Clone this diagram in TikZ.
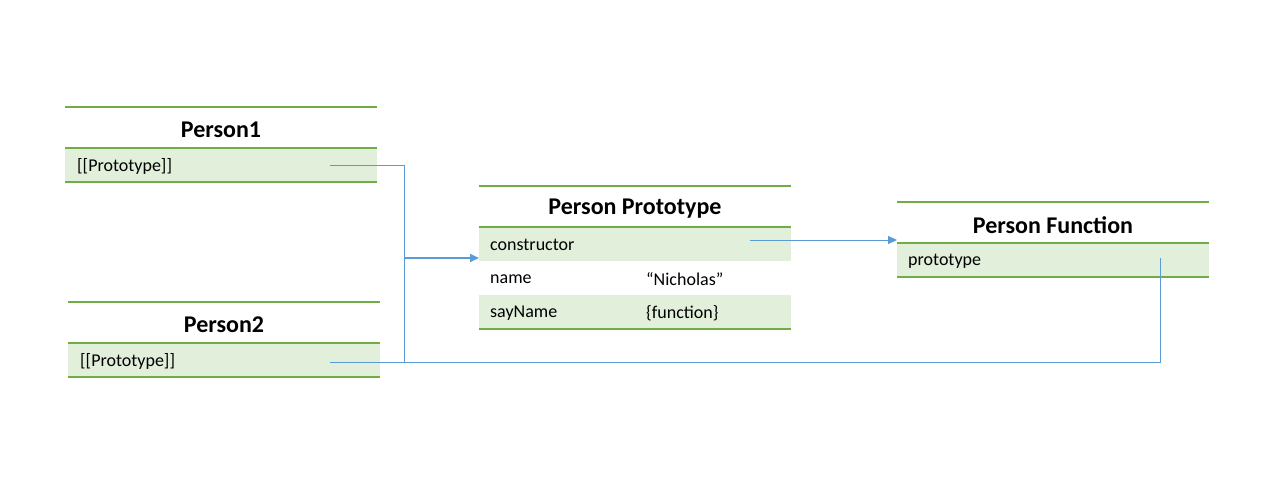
\documentclass[tikz,border=0pt]{standalone}
\usepackage{fontspec}
\setmainfont{Carlito}
\usetikzlibrary{arrows.meta}
\definecolor{ogreen}{HTML}{70AD47}
\definecolor{lgreen}{HTML}{E2EFDA}
\definecolor{oblue}{HTML}{5B9BD5}
\tikzset{
  gline/.style={draw=ogreen, line width=1.8pt},
  rowbox/.style={fill=lgreen, draw=none, minimum width=312pt, minimum height=34pt, inner sep=0pt, anchor=north west},
  ttl/.style={font=\bfseries\fontsize{24}{28}\selectfont, inner sep=0pt},
  txt/.style={font=\fontsize{18}{21}\selectfont, anchor=west, inner sep=0pt},
  conn/.style={draw=oblue, line width=1pt},
  connthick/.style={draw=oblue, line width=1.8pt},
  tip/.style={-{Triangle[length=9pt,width=8pt]}}
}
\begin{document}
\begin{tikzpicture}[x=1pt,y=-1pt]
\useasboundingbox (0,0) rectangle (1268,482);
% Person1
\node[rowbox] (p1row) at (65,148) {};
\draw[gline] (65,107) -- (377,107);
\draw[gline] (65,148) -- (377,148);
\draw[gline] (65,182) -- (377,182);
\node[ttl] (p1title) at (221,130) {Person1};
\node[txt] (p1txt) at (77,166) {[[Prototype]]};
% Person2
\node[rowbox] (p2row) at (68,343) {};
\draw[gline] (68,302) -- (380,302);
\draw[gline] (68,343) -- (380,343);
\draw[gline] (68,377) -- (380,377);
\node[ttl] (p2title) at (224,325) {Person2};
\node[txt] (p2txt) at (80,361) {[[Prototype]]};
% Person Prototype
\node[rowbox] (pprow1) at (479,227) {};
\node[rowbox] (pprow3) at (479,295) {};
\draw[gline] (479,186) -- (791,186);
\draw[gline] (479,227) -- (791,227);
\draw[gline] (479,329) -- (791,329);
\node[ttl] (pptitle) at (635,209) {Person Prototype};
\node[txt] (ppc) at (490,245) {constructor};
\node[txt] (ppn) at (490,279) {name};
\node[txt] (ppnv) at (646,279) {“Nicholas”};
\node[txt] (pps) at (490,313) {sayName};
\node[txt] (ppsv) at (646,313) {\{function\}};
% Person Function
\node[rowbox] (pfrow) at (897,243) {};
\draw[gline] (897,202) -- (1209,202);
\draw[gline] (897,243) -- (1209,243);
\draw[gline] (897,277) -- (1209,277);
\node[ttl] (pftitle) at (1053,225) {Person Function};
\node[txt] (pft) at (908,261) {prototype};
% connector coordinates
\coordinate (p1s) at (330,165);
\coordinate (p2s) at (330,362);
\coordinate (junc) at (404,258);
\coordinate (ppin) at (479,258);
\coordinate (cs) at (750,240);
\coordinate (pfin) at (897,240);
\coordinate (pfs) at (1160,258);
% connectors
\draw[conn] (p1s) -| (junc);
\draw[conn] (p2s) -| (junc);
\draw[connthick, tip] (junc) -- (ppin);
\draw[conn, tip] (cs) -- (pfin);
\draw[conn] (pfs) |- (p2s);
\end{tikzpicture}
\end{document}
